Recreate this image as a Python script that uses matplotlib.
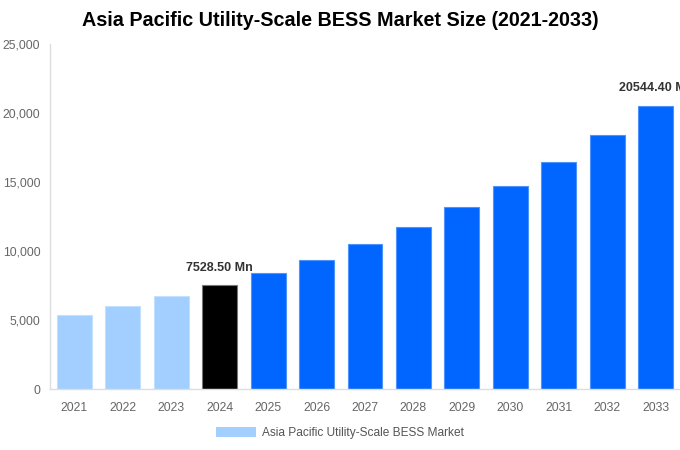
import matplotlib
matplotlib.use("Agg")
import matplotlib.pyplot as plt
from matplotlib.patches import Patch

years = ["2021", "2022", "2023", "2024", "2025", "2026", "2027", "2028", "2029", "2030", "2031", "2032", "2033"]
values = [5380, 6030, 6730, 7528.50, 8400, 9360, 10520, 11760, 13180, 14720, 16440, 18390, 20544.40]
colors = ["#a2cfff"] * 3 + ["#000000"] + ["#0066ff"] * 9
edges = ["#c4e0ff"] * 3 + ["#777777"] + ["#4d94ff"] * 9
labels = {3: "7528.50 Mn", 12: "20544.40 Mn"}
yticks = [0, 5000, 10000, 15000, 20000, 25000]

plt.rcParams['font.family'] = ['Liberation Sans', 'DejaVu Sans']
fig = plt.figure(figsize=(6.8, 4.5), dpi=100)
ax = fig.add_axes([50 / 680, 1 - 389.3 / 450, 630 / 680, (389.3 - 44) / 450])

x = list(range(len(years)))
ax.bar(x, values, width=0.72, color=colors, edgecolor=edges, linewidth=0.8, zorder=2)
ax.set_xlim(-0.5, len(years) - 0.5)
ax.set_ylim(0, 25000)
ax.set_yticks(yticks)
ax.set_yticklabels([f"{v:,}" for v in yticks])
ax.set_xticks(x)
ax.set_xticklabels(years)
ax.tick_params(axis='both', length=0, labelsize=8.8, colors="#666666")
ax.tick_params(axis='x', pad=9.5)
ax.tick_params(axis='y', pad=7)
for s in ["top", "right"]:
    ax.spines[s].set_visible(False)
for s in ["left", "bottom"]:
    ax.spines[s].set_color("#dddddd")
    ax.spines[s].set_linewidth(1)

for i, t in labels.items():
    ax.annotate(t, (x[i], values[i]), xytext=(0, 8), textcoords="offset points",
                ha="center", va="bottom", fontsize=9, fontweight="bold", color="#333333",
                annotation_clip=False)

fig.text(340 / 680, 1 - 21 / 450, "Asia Pacific Utility-Scale BESS Market Size (2021-2033)",
         ha="center", va="center", fontsize=14.2, fontweight="bold", color="#000000")

leg = fig.legend(handles=[Patch(facecolor="#a2cfff", edgecolor="none",
                                label="Asia Pacific Utility-Scale BESS Market")],
                 loc="center", bbox_to_anchor=(340 / 680, 1 - 433 / 450), frameon=False,
                 fontsize=8.6, handlelength=3.35, handleheight=0.95, handletextpad=0.5,
                 labelcolor="#555555")

fig.savefig("out.png", dpi=100)
